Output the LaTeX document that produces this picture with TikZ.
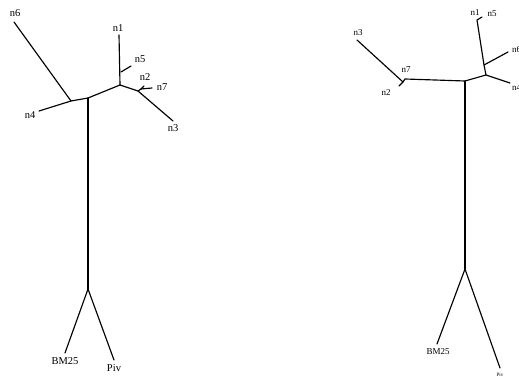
\documentclass[tikz,border=0pt]{standalone}
\usepackage{fontspec}
\setmainfont{Liberation Serif}
\begin{document}
\begin{tikzpicture}[x=1pt,y=-1pt,
  edge/.style={line width=1.15pt, line cap=round, line join=round},
  lbl/.style={inner sep=0pt, font=\fontsize{10.5}{12}\selectfont},
  rlbl/.style={inner sep=0pt, font=\fontsize{9}{10}\selectfont}]
\useasboundingbox (0,0) rectangle (519,377);
\clip (0,0) rectangle (519,377);
% ---------- left tree ----------
\coordinate (L6) at (14,22);
\coordinate (L4n) at (71,101);
\coordinate (L4) at (39,111);
\coordinate (LA) at (88,98);
\coordinate (LR) at (88,289);
\coordinate (LBM) at (65,353);
\coordinate (LPiv) at (114,360);
\coordinate (LB) at (120,85);
\coordinate (L1) at (119,35);
\coordinate (L5b) at (121,72);
\coordinate (L5) at (131,66);
\coordinate (LC) at (138,91);
\coordinate (LD) at (141,89);
\coordinate (L2) at (144,86);
\coordinate (L7) at (152,88);
\coordinate (L3) at (173,121);
\draw[edge] (L6) -- (L4n) -- (LA) -- (LB) -- (LC) -- (L3);
\draw[edge] (L4) -- (L4n);
\draw[edge] (LA) -- (LR);
\draw[edge] (LBM) -- (LR) -- (LPiv);
\draw[edge] (LB) -- (L1);
\draw[edge] (L5b) -- (L5);
\draw[edge] (LC) -- (LD) -- (L2);
\draw[edge] (LD) -- (L7);
\node[lbl] (tL6) at (15,13) {n6};
\node[lbl] (tL4) at (30,115) {n4};
\node[lbl] (tL1) at (118,28) {n1};
\node[lbl] (tL5) at (140,59) {n5};
\node[lbl] (tL2) at (145,77) {n2};
\node[lbl] (tL7) at (162,87) {n7};
\node[lbl] (tL3) at (173,128) {n3};
\node[lbl] (tLBM) at (65,361) {BM25};
\node[lbl] (tLPiv) at (114,368) {Piv};
% ---------- right tree ----------
\coordinate (R3) at (357,40);
\coordinate (RC) at (403,82);
\coordinate (R2) at (399,86);
\coordinate (RD) at (405,79);
\coordinate (RA) at (465,81);
\coordinate (RR) at (465,269);
\coordinate (RBM) at (437,344);
\coordinate (RPiv) at (500,368);
\coordinate (RE) at (486,75);
\coordinate (RF) at (484,65);
\coordinate (R6) at (508,52);
\coordinate (R4) at (510,83);
\coordinate (R1) at (477,20);
\coordinate (R5) at (482,17);
\draw[edge] (R3) -- (RC) -- (RD) -- (RA) -- (RE) -- (RF) -- (R1) -- (R5);
\draw[edge] (RC) -- (R2);
\draw[edge] (RA) -- (RR);
\draw[edge] (RBM) -- (RR) -- (RPiv);
\draw[edge] (RE) -- (R4);
\draw[edge] (RF) -- (R6);
\node[rlbl] (tR3) at (358,33) {n3};
\node[rlbl] (tR7) at (406,70) {n7};
\node[rlbl] (tR2) at (386,93) {n2};
\node[rlbl] (tR1) at (475,13) {n1};
\node[rlbl] (tR5) at (492,14) {n5};
\node[rlbl, anchor=west] (tR6) at (512,50) {n6};
\node[rlbl, anchor=west] (tR4) at (512,88) {n4};
\node[rlbl] (tRBM) at (438,352) {BM25};
\node[inner sep=0pt, font=\fontsize{5}{6}\selectfont] (tRPiv) at (500,375) {Piv};
\end{tikzpicture}
\end{document}
